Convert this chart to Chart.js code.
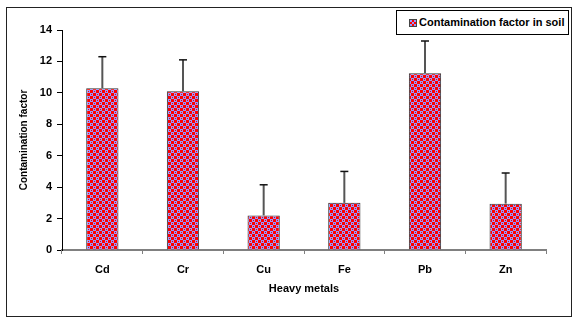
<!DOCTYPE html>
<html>
<head>
<meta charset="utf-8">
<script src="https://cdn.jsdelivr.net/npm/chart.js@4"></script>
<style>
  body { margin: 0; background: #fff; }
  #wrap { position: relative; width: 577px; height: 325px; }
  #frame { position: absolute; left: 6px; top: 7px; width: 564px; height: 308px; border: 1px solid #222; pointer-events: none; }
  #legend { position: absolute; left: 396px; top: 10px; width: 171px; height: 23px; border: 1px solid #000; background: #fff;
            font: bold 11px "Liberation Sans", Arial, sans-serif; line-height: 23px; white-space: nowrap; }
  #legend .sw { display: inline-block; width: 6px; height: 6px; margin: 0 2px 0 12px; border: 1px solid #444;
                background: repeating-conic-gradient(#ff0000 0 25%, #9999ff 0 50%) 0 0 / 4px 4px; vertical-align: -1px; }
</style>
</head>
<body>
<div id="wrap">
  <canvas id="chart" width="577" height="325"></canvas>
  <div id="frame"></div>
  <div id="legend"><span class="sw"></span><span id="legendText"></span></div>
</div>
<script>
var metals = ['Cd', 'Cr', 'Cu', 'Fe', 'Pb', 'Zn'];
var contamination = [10.3, 10.1, 2.2, 3.0, 11.25, 2.95];
var errors = [2.0, 2.0, 1.95, 2.0, 2.05, 1.95];
var seriesName = 'Contamination factor in soil';

// checker fill like the excel pattern
function makePattern() {
  var c = document.createElement('canvas');
  c.width = 6; c.height = 6;
  var g = c.getContext('2d');
  g.fillStyle = '#9999ff';
  g.fillRect(0, 0, 6, 6);
  g.fillStyle = '#ff0000';
  g.fillRect(0, 0, 3, 3);
  g.fillRect(3, 3, 3, 3);
  g.fillRect(4, 1, 1, 1);
  g.fillRect(1, 4, 1, 1);
  return g.createPattern(c, 'repeat');
}

var errorBars = {
  id: 'errorBars',
  afterDatasetsDraw: function(chart) {
    var ctx = chart.ctx;
    var y = chart.scales.y;
    var meta = chart.getDatasetMeta(0);
    ctx.save();
    meta.data.forEach(function(bar, i) {
      var top = y.getPixelForValue(contamination[i] + errors[i]);
      ctx.strokeStyle = '#555';
      ctx.lineWidth = 2;
      ctx.beginPath();
      ctx.moveTo(bar.x, bar.y);
      ctx.lineTo(bar.x, top);
      ctx.stroke();
      ctx.strokeStyle = '#111';
      ctx.lineWidth = 1.5;
      ctx.beginPath();
      ctx.moveTo(bar.x - 4, top);
      ctx.lineTo(bar.x + 4, top);
      ctx.stroke();
    });
    ctx.restore();
  }
};

document.getElementById('legendText').textContent = seriesName;

var font = { family: '"Liberation Sans", Arial, sans-serif', weight: 'bold', size: 11 };

new Chart(document.getElementById('chart'), {
  type: 'bar',
  data: {
    labels: metals,
    datasets: [{
      label: seriesName,
      data: contamination,
      backgroundColor: makePattern(),
      borderColor: '#333',
      borderWidth: 1,
      barPercentage: 0.4,
      categoryPercentage: 1
    }]
  },
  plugins: [errorBars],
  options: {
    responsive: false,
    animation: false,
    layout: { padding: { left: 7, top: 30, right: 31, bottom: 0 } },
    plugins: { legend: { display: false }, tooltip: { enabled: false } },
    scales: {
      x: {
        afterFit: function(s) { s.height = 75; },
        grid: { offset: true, drawOnChartArea: false, drawTicks: true, tickLength: 4, color: '#808080' },
        border: { display: true, color: '#808080', width: 2 },
        ticks: { color: '#000', font: font, padding: 9 },
        title: { display: true, text: 'Heavy metals', color: '#000', font: font, padding: { top: 0, bottom: 29 } }
      },
      y: {
        min: 0, max: 14,
        afterFit: function(s) { s.width = 55; },
        grid: { drawOnChartArea: false, drawTicks: true, tickLength: 5, color: '#000' },
        border: { display: true, color: '#000', width: 1 },
        ticks: { stepSize: 2, color: '#000', font: font, padding: 5 },
        title: { display: true, text: 'Contamination factor', color: '#000',
                 font: { family: font.family, weight: 'bold', size: 10 }, padding: { top: 11, bottom: 0 } }
      }
    }
  }
});
</script>
</body>
</html>
